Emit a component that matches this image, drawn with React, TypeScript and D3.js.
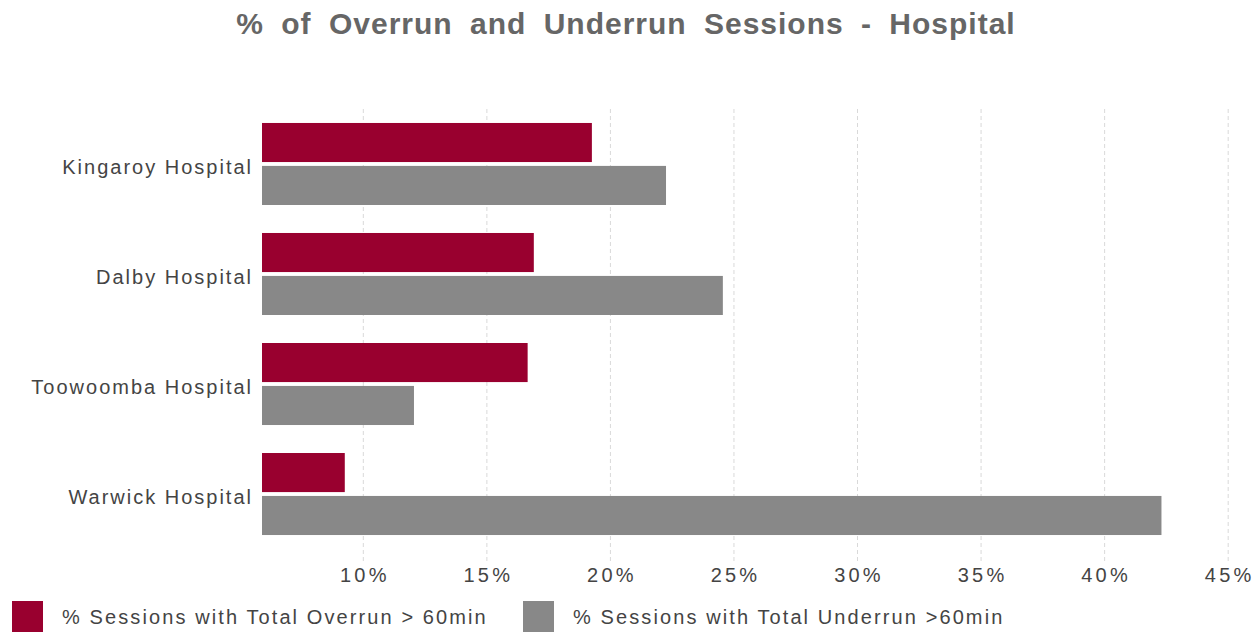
import React from "react";
import * as d3 from "d3";

const hospitals = ["Kingaroy Hospital", "Dalby Hospital", "Toowoomba Hospital", "Warwick Hospital"];
const overrun = [19.25, 16.9, 16.65, 9.25];
const underrun = [22.25, 24.55, 12.05, 42.3];
const ticks = [10, 15, 20, 25, 30, 35, 40, 45];
const seriesNames = ["% Sessions with Total Overrun > 60min", "% Sessions with Total Underrun >60min"];
const colors = ["#99002f", "#888888"];

export default function App() {
  const W = 1258, H = 633;
  const x = d3.scaleLinear().domain([5.9, 45.6]).range([262, 1243]);
  const y = d3.scaleBand().domain(hospitals).range([109, 549]).paddingInner(0.2545).paddingOuter(0.127);
  const sub = d3.scaleBand().domain(["o", "u"]).range([0, y.bandwidth()]).paddingInner(0.09);
  const font = "'Liberation Sans', Arial, sans-serif";
  return (
    <svg width={W} height={H} style={{ position: "absolute", left: 0, top: 0, background: "#fff" }}>
      <text x={626} y={34} textAnchor="middle" fontFamily={font} fontWeight="bold" fontSize={30} fill="#666" letterSpacing={1} wordSpacing={8}>
        % of Overrun and Underrun Sessions - Hospital
      </text>
      {ticks.map((t) => (
        <g key={t}>
          <line x1={x(t)} x2={x(t)} y1={109} y2={563} stroke="#d9d9d9" strokeWidth={1} strokeDasharray="4,3" />
          <text x={x(t) + 1.5} y={582} textAnchor="middle" fontFamily={font} fontSize={20} fill="#444" letterSpacing={3.2}>
            {t}%
          </text>
        </g>
      ))}
      {hospitals.map((h, i) => (
        <g key={h}>
          <rect x={x(5.9)} y={(y(h) as number) + (sub("o") as number)} width={x(overrun[i]) - x(5.9)} height={sub.bandwidth()} fill={colors[0]} />
          <rect x={x(5.9)} y={(y(h) as number) + (sub("u") as number)} width={x(underrun[i]) - x(5.9)} height={sub.bandwidth()} fill={colors[1]} />
          <text x={253} y={(y(h) as number) + y.bandwidth() / 2 + 10} textAnchor="end" fontFamily={font} fontSize={20} fill="#444" letterSpacing={2}>
            {h}
          </text>
        </g>
      ))}
      {seriesNames.map((s, i) => {
        const lx = i === 0 ? 12 : 523;
        return (
          <g key={s}>
            <rect x={lx} y={601} width={31} height={31} fill={colors[i]} />
            <text x={lx + 50} y={624} fontFamily={font} fontSize={20} fill="#444" letterSpacing={2.1}>
              {s}
            </text>
          </g>
        );
      })}
    </svg>
  );
}
